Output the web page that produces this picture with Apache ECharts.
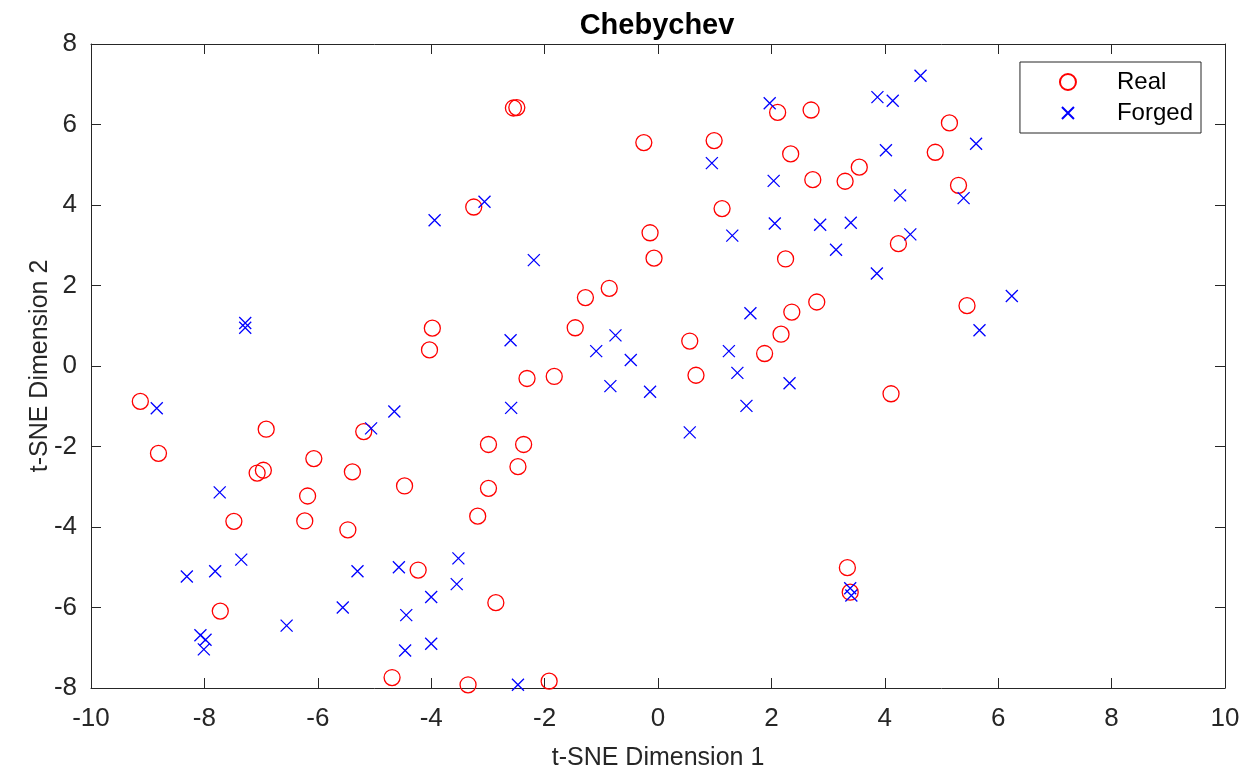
<!DOCTYPE html>
<html>
<head>
<meta charset="utf-8">
<script src="https://cdn.jsdelivr.net/npm/echarts@6/dist/echarts.min.js"></script>
<style>
html,body{margin:0;padding:0;background:#fff;}
#chart{width:1256px;height:776px;}
</style>
</head>
<body>
<div id="chart"></div>
<script>
const titleText = 'Chebychev';
const xName = 't-SNE Dimension 1';
const yName = 't-SNE Dimension 2';
const seriesNames = ['Real', 'Forged'];

const realX = [-2.55,-2.49,-0.25,0.99,2.11,2.70,2.34,2.73,-3.25,1.13,-0.14,-0.07,2.25,-0.86,-1.28,-1.46,0.56,2.36,2.80,2.17,1.88,5.14,4.89,3.55,3.30,5.30,4.24,5.45,-3.98,-4.03,-9.13,-8.81,-6.91,-5.19,-7.07,-6.96,-6.07,-5.39,-6.18,-4.47,-7.48,-6.23,-5.47,-4.23,-7.72,-4.69,-3.35,-2.31,-1.83,0.67,-2.99,-2.37,-2.47,-2.99,-3.18,-2.86,-1.92,3.34,3.39,4.11];
const realY = [6.41,6.42,5.55,5.60,6.30,6.36,5.27,4.63,3.95,3.91,3.31,2.68,2.66,1.93,1.70,0.95,0.62,1.34,1.59,0.79,0.31,6.04,5.31,4.94,4.59,4.49,3.04,1.50,0.94,0.40,-0.88,-2.17,-1.57,-1.63,-2.66,-2.59,-2.30,-2.63,-3.23,-2.98,-3.86,-3.85,-4.07,-5.07,-6.09,-7.74,-7.92,-0.31,-0.26,-0.23,-1.95,-1.95,-2.50,-3.04,-3.73,-5.88,-7.83,-5.01,-5.62,-0.69];

const forgedX = [-3.94,-7.28,-7.28,0.95,1.97,2.04,-3.06,1.31,2.06,2.86,3.14,-2.19,-2.60,-0.75,-1.09,-0.48,1.63,1.25,4.63,3.87,4.14,5.61,4.02,5.39,4.27,3.40,4.45,3.86,6.24,5.67,-8.84,-4.65,-5.06,-7.73,-7.35,-8.31,-7.81,-5.30,-4.57,-3.52,-3.55,-4.00,-5.56,-4.44,-6.55,-8.07,-7.98,-8.01,-4.00,-4.46,-0.84,-0.14,1.40,2.32,1.56,0.56,-2.59,-2.47,3.39,3.41];
const forgedY = [3.62,1.07,0.95,5.04,6.53,4.60,4.08,3.24,3.54,3.51,2.89,2.63,0.64,0.76,0.37,0.15,1.31,0.37,7.21,6.68,6.59,5.52,5.36,4.17,4.24,3.56,3.27,2.30,1.74,0.89,-1.05,-1.13,-1.55,-3.14,-4.81,-5.23,-5.10,-5.10,-5.00,-4.78,-5.42,-5.74,-6.00,-6.19,-6.45,-6.69,-6.80,-7.04,-6.90,-7.07,-0.50,-0.64,-0.17,-0.43,-0.99,-1.65,-1.04,-7.92,-5.52,-5.70];

const xTicks = {min: -10, max: 10, interval: 2};
const yTicks = {min: -8, max: 8, interval: 2};

const FONT = "'Liberation Sans', Arial, Helvetica, sans-serif";
const AX = '#262626';
const crossPath = 'path://M0,0M2,2L14,14M14,2L2,14M16,16';

function pairs(xs, ys){ return xs.map((x,i)=>[x, ys[i]]); }

const chart = echarts.init(document.getElementById('chart'), null, {renderer:'canvas'});

function axisCommon(showLabel){
  return {
    type: 'value',
    axisLine: {show: true, onZero: false, lineStyle: {color: AX, width: 1}},
    axisTick: {show: true, inside: true, length: 10, lineStyle: {color: AX, width: 1}},
    axisLabel: {show: showLabel, color: AX, fontSize: 26, fontFamily: FONT},
    splitLine: {show: false}
  };
}

chart.setOption({
  backgroundColor: '#fff',
  animation: false,
  title: {
    text: titleText, left: 652, top: 6, textAlign: 'center', padding: [5, 5, 5, 5],
    textStyle: {fontFamily: FONT, fontWeight: 'bold', fontSize: 29, color: '#000'}
  },
  grid: {left: 91, right: 31, top: 44, bottom: 87, containLabel: false},
  legend: {
    orient: 'vertical', right: 55, top: 62,
    data: [{name: seriesNames[0], icon: 'circle'}, {name: seriesNames[1], icon: crossPath}],
    itemWidth: 88, itemHeight: 16, itemGap: 7,
    padding: [8, 8, 8, 39],
    borderColor: AX, borderWidth: 1, backgroundColor: '#fff',
    textStyle: {fontFamily: FONT, fontSize: 24, color: '#000'}
  },
  xAxis: [
    Object.assign(axisCommon(true), {
      position: 'bottom', min: xTicks.min, max: xTicks.max, interval: xTicks.interval,
      name: xName, nameLocation: 'middle', nameGap: 58, nameMoveOverlap: false,
      nameTextStyle: {fontFamily: FONT, fontSize: 25, color: AX},
      axisLabel: {show: true, color: AX, fontSize: 26, fontFamily: FONT, margin: 18}
    }),
    Object.assign(axisCommon(false), {
      position: 'top', min: xTicks.min, max: xTicks.max, interval: xTicks.interval
    })
  ],
  yAxis: [
    Object.assign(axisCommon(true), {
      position: 'left', min: yTicks.min, max: yTicks.max, interval: yTicks.interval,
      name: yName, nameLocation: 'middle', nameGap: 38, nameMoveOverlap: false,
      nameTextStyle: {fontFamily: FONT, fontSize: 25, color: AX},
      axisLabel: {show: true, color: AX, fontSize: 26, fontFamily: FONT, margin: 14}
    }),
    Object.assign(axisCommon(false), {
      position: 'right', min: yTicks.min, max: yTicks.max, interval: yTicks.interval
    })
  ],
  series: [
    {
      name: seriesNames[0], type: 'scatter', xAxisIndex: 0, yAxisIndex: 0,
      symbol: 'circle', symbolSize: 16,
      itemStyle: {color: 'rgba(0,0,0,0)', borderColor: '#ff0000', borderWidth: 1.3, opacity: 1},
      data: pairs(realX, realY)
    },
    {
      name: seriesNames[1], type: 'scatter', xAxisIndex: 0, yAxisIndex: 0,
      symbol: crossPath, symbolSize: 16,
      itemStyle: {color: 'rgba(0,0,0,0)', borderColor: '#0000ff', borderWidth: 1.3, opacity: 1},
      data: pairs(forgedX, forgedY)
    }
  ]
});
</script>
</body>
</html>
